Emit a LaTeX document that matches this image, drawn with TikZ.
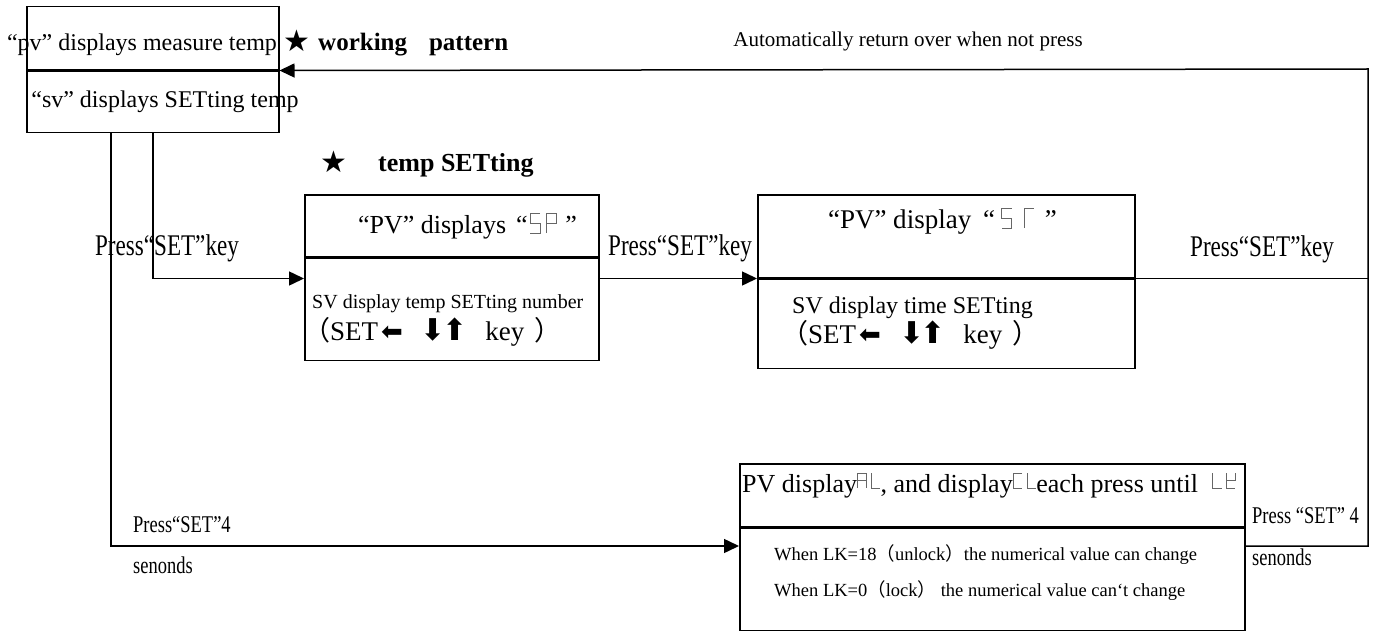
\documentclass[tikz,border=0pt]{standalone}
\usepackage{fontspec}
\setmainfont{Liberation Serif}
\newfontfamily\symfont{DejaVu Sans}
\newfontfamily\cjkfont{Noto Sans CJK SC}
\newfontfamily\narrowfont[FakeStretch=0.77]{Liberation Serif}
\usetikzlibrary{arrows.meta}

% seven segment glyphs of the display
\tikzset{
  segline/.style={line width=0.8bp,black!60,line cap=butt},
  seg big/.style={baseline=0pt,x=10bp,y=20bp},
  seg small/.style={baseline=-4bp,x=9bp,y=15bp}
}
\newcommand{\segS}[1][seg big]{\tikz[segline,#1]\draw (1,1)--(0,1)--(0,0.5)--(1,0.5)--(1,0)--(0,0);}
\newcommand{\segP}[1][seg big]{\tikz[segline,#1]\draw (0,0)--(0,1)--(1,1)--(1,0.5)--(0,0.5);}
\newcommand{\segT}[1][seg big]{\tikz[segline,#1]\draw (0,0)--(0,1)--(1,1);}
\newcommand{\segA}[1][seg big]{\tikz[segline,#1]\draw (0,0)--(0,1)--(1,1)--(1,0) (0,0.5)--(1,0.5);}
\newcommand{\segL}[1][seg big]{\tikz[segline,#1]\draw (0,1)--(0,0)--(1,0);}
\newcommand{\segC}[1][seg big]{\tikz[segline,#1]\draw (1,1)--(0,1)--(0,0)--(1,0);}
\newcommand{\segK}[1][seg big]{\tikz[segline,#1]\draw (0,1)--(0,0)--(1,0) (0,0.5)--(1,0.5)--(1,1);}
% the key line under each setting
\newcommand{\keyline}{{\cjkfont （}SET\hspace{3bp}{\symfont\fontsize{26bp}{30bp}\selectfont ⬅}\hspace{18bp}{\symfont\fontsize{30bp}{30bp}\selectfont ⬇\hspace{-4bp}⬆}\hspace{18bp}key\hspace{10bp}{\cjkfont ）}}

\begin{document}
\begin{tikzpicture}
	[x=1bp,y=-1bp,
	 boxpart/.style={draw,line width=1.5bp,inner sep=0pt,anchor=north west},
	 link/.style={line width=1.5bp},
	 flow/.style={link,-{Triangle[length=15bp,width=14bp]}},
	 txt/.style={inner sep=0pt,anchor=base,font=\fontsize{#1}{28bp}\selectfont},
	 txt/.default=24bp,
	 headtxt/.style={inner sep=0pt,anchor=base west,font=\fontsize{#1}{30bp}\selectfont\bfseries},
	 headtxt/.default=26bp,
	 startxt/.style={inner sep=0pt,anchor=base,font=\symfont\fontsize{30bp}{30bp}\selectfont},
	 presstxt/.style={inner sep=0pt,anchor=base,font=\narrowfont\fontsize{#1}{34bp}\selectfont},
	 presstxt/.default=30bp]
	\useasboundingbox (0,0) rectangle (1378,631);
	% boxes
	\node[boxpart,minimum width=252bp,minimum height=63bp] (pvbox) at (26,6) {};
	\node[boxpart,minimum width=252bp,minimum height=61bp] (svbox) at (pvbox.south west) {};
	\node[boxpart,minimum width=294bp,minimum height=62bp] (spbox) at (304,194) {};
	\node[boxpart,minimum width=294bp,minimum height=102bp] (spsvbox) at (spbox.south west) {};
	\node[boxpart,minimum width=377bp,minimum height=83bp] (stbox) at (757,194) {};
	\node[boxpart,minimum width=377bp,minimum height=89bp] (stsvbox) at (stbox.south west) {};
	\node[boxpart,minimum width=505bp,minimum height=63bp] (lkbox) at (739,463) {};
	\node[boxpart,minimum width=505bp,minimum height=102bp] (lksvbox) at (lkbox.south west) {};
	\coordinate (lkrow) at (0,546);
	\coordinate (backcol) at (1368,69);
	% connectors
	\draw[flow] (svbox.south) |- (spsvbox.west |- stbox.south);
	\draw[flow] (spsvbox.east |- stbox.south) -- (stsvbox.north west);
	\draw[link] (stsvbox.north east) -- (stsvbox.north east -| backcol);
	\draw[flow] ([xshift=-42bp]svbox.south) |- (lksvbox.west |- lkrow);
	\draw[flow] (lksvbox.east |- lkrow) -| (backcol) -- (pvbox.south east);
	% texts
	\node[txt] (pvtext) at (142,51) {“pv” displays measure temp};
	\node[txt] (svtext) at (165,108) {“sv” displays SETting temp};
	\node[startxt] (workstar) at (297,52) {★};
	\node[headtxt=25bp] (worktext) at (318,51) {working\hspace{22bp}pattern};
	\node[txt=21bp] (autotext) at (908,47) {Automatically return over when not press};
	\node[startxt] (tempstar) at (334,173) {★};
	\node[headtxt] (temptext) at (378,172) {temp SETting};
	\node[txt=26bp,anchor=base east] (sptitle) at (577,233)
		{“PV” displays\hspace{10bp}“\hspace{2bp}\segS\hspace{6bp}\segP\hspace{8bp}”};
	\node[txt=20bp,anchor=base west] (spsv) at (312,308) {SV display temp SETting number};
	\node[txt=27bp,anchor=base west] (spkey) at (303,340) {\keyline};
	\node[txt=27bp,anchor=base east] (sttitle) at (1057,228)
		{“PV” display\hspace{12bp}“\hspace{6bp}\segS\hspace{12bp}\segT\hspace{10bp}”};
	\node[txt=24bp,anchor=base west] (stsv) at (792,313) {SV display time SETting};
	\node[txt=27bp,anchor=base west] (stkey) at (781,343) {\keyline};
	\node[txt=26bp,anchor=base west] (lktitle) at (742,492)
		{PV display\segA[seg small]\hspace{4bp}\segL[seg small], and display\segC[seg small]\hspace{4bp}\segL[seg small]each press until\hspace{14bp}\segL[seg small]\hspace{4bp}\segK[seg small]};
	\node[txt=18.5bp,anchor=base west] (lkunlock) at (774,560)
		{When LK=18{\cjkfont （}unlock{\cjkfont ）}the numerical value can change};
	\node[txt=18.5bp,anchor=base west] (lklock) at (774,596)
		{When LK=0{\cjkfont （}lock{\cjkfont ）} the numerical value can‘t change};
	\node[presstxt] (press1) at (167,255) {Press“SET”key};
	\node[presstxt] (press2) at (680,255) {Press“SET”key};
	\node[presstxt] (press3) at (1262,256) {Press“SET”key};
	\node[presstxt=24bp,anchor=base west] (press4) at (133,532) {Press“SET”4};
	\node[presstxt=24bp,anchor=base west] (sec4) at (133,573) {senonds};
	\node[presstxt=24bp,anchor=base west] (press5) at (1252,523) {Press “SET” 4};
	\node[presstxt=24bp,anchor=base west] (sec5) at (1252,565) {senonds};
\end{tikzpicture}
\end{document}
